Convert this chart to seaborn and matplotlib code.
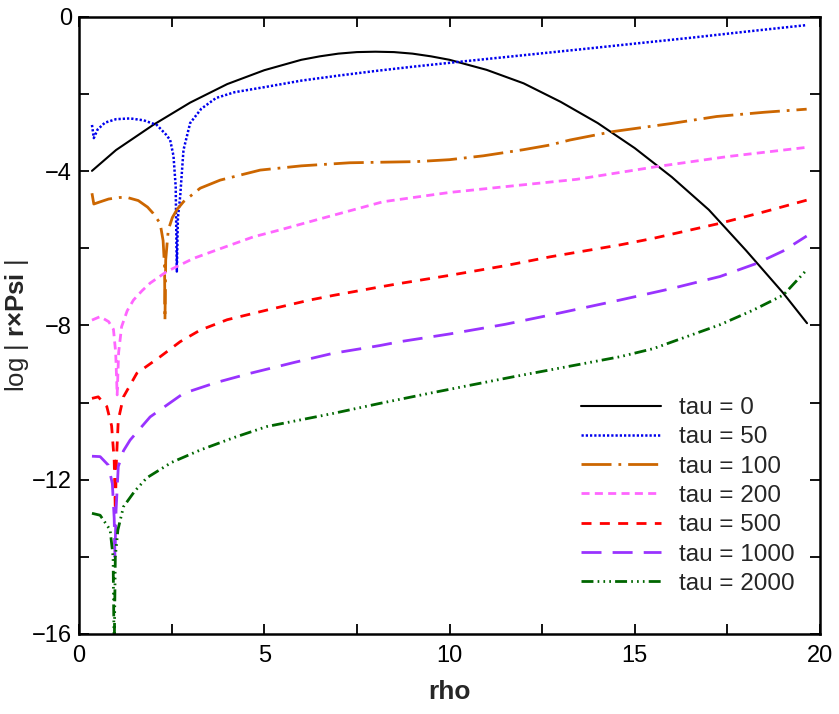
import matplotlib
matplotlib.use("Agg")
import matplotlib.pyplot as plt
import seaborn as sns
import pandas as pd

# ---------------- data ----------------
x_tau0 = [0.35, 1.0, 2.0, 3.0, 4.0, 5.0, 6.0, 6.5, 7.0, 7.5, 8.0, 8.5, 9.0, 9.5,
          10.0, 11.0, 12.0, 13.0, 14.0, 15.0, 16.0, 17.0, 18.0, 19.0, 19.65]
y_tau0 = [-3.99, -3.45, -2.80, -2.22, -1.74, -1.38, -1.11, -1.02, -0.95, -0.91,
          -0.90, -0.91, -0.95, -1.02, -1.11, -1.37, -1.72, -2.20, -2.75, -3.40,
          -4.15, -5.00, -6.05, -7.15, -7.94]

x_tau50 = [0.35, 0.40, 0.50, 0.70, 1.00, 1.38, 1.75, 2.10, 2.35, 2.46, 2.55, 2.61,
           2.64, 2.67, 2.73, 2.82, 3.00, 3.30, 3.70, 4.20, 5.00, 6.00, 7.00, 8.00,
           9.00, 10.28, 11.5, 12.71, 13.52, 15.0, 16.5, 18.0, 19.64]
y_tau50 = [-2.80, -3.14, -2.92, -2.74, -2.65, -2.63, -2.68, -2.80, -3.05, -3.19,
           -3.60, -4.40, -6.60, -5.20, -4.66, -3.45, -2.75, -2.38, -2.10, -1.95,
           -1.82, -1.65, -1.52, -1.40, -1.29, -1.16, -1.04, -0.92, -0.84, -0.69,
           -0.54, -0.38, -0.21]

x_tau100 = [0.35, 0.40, 0.55, 0.80, 1.10, 1.30, 1.60, 1.85, 2.00, 2.19, 2.27,
            2.31, 2.32, 2.34, 2.41, 2.52, 2.64, 2.82, 3.27, 3.81, 4.89, 6.00, 7.31,
            9.11, 10.00, 10.91, 12.00, 12.71, 13.25, 14.42, 16.00, 17.21, 18.50, 19.64]
y_tau100 = [-4.57, -4.85, -4.80, -4.72, -4.68, -4.68, -4.76, -4.93, -5.09, -5.35,
            -5.80, -6.50, -7.86, -6.30, -5.52, -5.20, -5.00, -4.79, -4.44, -4.23,
            -3.97, -3.86, -3.78, -3.75, -3.70, -3.60, -3.44, -3.32, -3.19, -2.97,
            -2.76, -2.58, -2.47, -2.39]

x_tau200 = [0.35, 0.57, 0.80, 0.93, 0.99, 1.03, 1.07, 1.15, 1.30, 1.47, 1.70,
            1.92, 2.37, 3.09, 3.72, 4.71, 5.43, 6.41, 8.21, 10.00, 11.50, 13.43,
            15.59, 17.50, 19.64]
y_tau200 = [-7.86, -7.77, -7.90, -8.10, -8.70, -9.80, -8.70, -8.03, -7.62, -7.34,
            -7.10, -6.90, -6.60, -6.26, -6.04, -5.70, -5.52, -5.26, -4.79, -4.55,
            -4.40, -4.21, -3.88, -3.62, -3.38]

x_tau500 = [0.35, 0.52, 0.75, 0.88, 0.95, 0.98, 1.01, 1.06, 1.20, 1.56, 2.19,
            2.73, 3.27, 4.00, 5.07, 6.23, 6.86, 8.12, 8.66, 10.00, 11.50, 12.71,
            14.60, 15.50, 17.30, 18.50, 19.64]
y_tau500 = [-9.89, -9.85, -10.10, -10.60, -11.50, -12.80, -11.50, -10.45, -9.85,
            -9.24, -8.81, -8.42, -8.12, -7.85, -7.60, -7.34, -7.22, -7.00, -6.91,
            -6.70, -6.45, -6.22, -5.91, -5.74, -5.35, -5.05, -4.75]

x_tau1000 = [0.35, 0.57, 0.79, 0.90, 0.95, 0.97, 1.00, 1.06, 1.20, 1.38, 1.92,
             2.82, 3.70, 4.62, 5.80, 6.86, 8.12, 8.66, 10.00, 11.50, 12.71, 14.60,
             16.00, 17.30, 18.29, 19.00, 19.64]
y_tau1000 = [-11.39, -11.40, -11.62, -12.10, -13.00, -14.00, -12.80, -11.66,
             -11.25, -10.97, -10.37, -9.76, -9.48, -9.24, -8.96, -8.72, -8.52,
             -8.42, -8.22, -7.97, -7.73, -7.34, -7.04, -6.73, -6.39, -6.07, -5.68]

x_tau2000 = [0.35, 0.57, 0.84, 0.92, 0.95, 0.98, 1.05, 1.20, 1.50, 1.83, 2.50,
             3.27, 4.20, 5.07, 6.86, 8.12, 9.50, 10.50, 11.72, 13.00, 14.60, 15.50,
             16.40, 17.30, 18.20, 19.01, 19.60]
y_tau2000 = [-12.87, -12.92, -13.30, -14.00, -16.50, -14.00, -13.30, -12.70,
             -12.30, -11.95, -11.55, -11.23, -10.90, -10.62, -10.28, -10.02, -9.75,
             -9.56, -9.33, -9.10, -8.81, -8.60, -8.29, -7.98, -7.60, -7.21, -6.60]

labels = ["tau = 0", "tau = 50", "tau = 100", "tau = 200", "tau = 500",
          "tau = 1000", "tau = 2000"]
xs = [x_tau0, x_tau50, x_tau100, x_tau200, x_tau500, x_tau1000, x_tau2000]
ys = [y_tau0, y_tau50, y_tau100, y_tau200, y_tau500, y_tau1000, y_tau2000]

x_ticks = [0, 5, 10, 15, 20]
y_ticks = [-16, -12, -8, -4, 0]

# ---------------- styles ----------------
colors = ["#000000", "#0000EE", "#CC6600", "#FF66FF", "#FF0000", "#9933FF", "#006600"]
styles = ["-", (0, (0.9, 0.8)), (0, (10.8, 2.5, 1.0, 2.5)), (0, (2.9, 1.9)),
          (0, (3.6, 3.0)), (0, (7.2, 4.0)),
          (0, (4.3, 1.5, 0.6, 1.5, 0.6, 1.5, 0.6, 1.5))]
widths = [1.5, 1.8, 2.0, 2.0, 2.0, 2.0, 2.0]

sns.set_theme(style="ticks")
plt.rcParams["font.family"] = ["Liberation Sans", "DejaVu Sans"]
plt.rcParams["mathtext.fontset"] = "custom"
plt.rcParams["mathtext.rm"] = "Liberation Sans"
plt.rcParams["mathtext.bf"] = "Liberation Sans:bold"

fig = plt.figure(figsize=(8.39, 7.14), dpi=100)
ax = fig.add_axes([79 / 839, 1 - 634 / 714, (820 - 79) / 839, (634 - 17) / 714])

for xv, yv, lab, c, ls, lw in zip(xs, ys, labels, colors, styles, widths):
    df = pd.DataFrame({"rho": xv, "val": yv})
    sns.lineplot(data=df, x="rho", y="val", ax=ax, color=c, linestyle=ls,
                 linewidth=lw, label=lab, estimator=None, sort=False)

ax.set_xlim(0, 20)
ax.set_ylim(-16, 0)
ax.set_xticks(x_ticks)
ax.set_yticks(y_ticks)
ax.set_xticks([2.5, 7.5, 12.5, 17.5], minor=True)
ax.set_yticks([-14, -10, -6, -2], minor=True)
ax.tick_params(which="both", direction="in", length=7, width=1.3,
               top=True, right=True, labelsize=17, colors="black")
ax.tick_params(axis="x", which="major", pad=8)
ax.tick_params(axis="y", which="major", pad=5)
for s in ax.spines.values():
    s.set_linewidth(1.8)
    s.set_color("black")

ax.set_xlabel("rho", fontsize=19, fontweight="bold", labelpad=9)
ax.set_ylabel("log | $\\mathbf{r{\\times}Psi}$ |", fontsize=18.5)
ax.yaxis.label.set_verticalalignment("center")
ax.yaxis.set_label_coords((17 - 79) / 741, 0.5)

leg = ax.legend(loc="upper left", bbox_to_anchor=((581 - 79) / 741, 1 - (397 - 17) / 617),
                frameon=False, fontsize=17.5, handlelength=3.3, handletextpad=0.72,
                labelspacing=0.30, borderpad=0, borderaxespad=0)

fig.savefig("out.png", dpi=100)
